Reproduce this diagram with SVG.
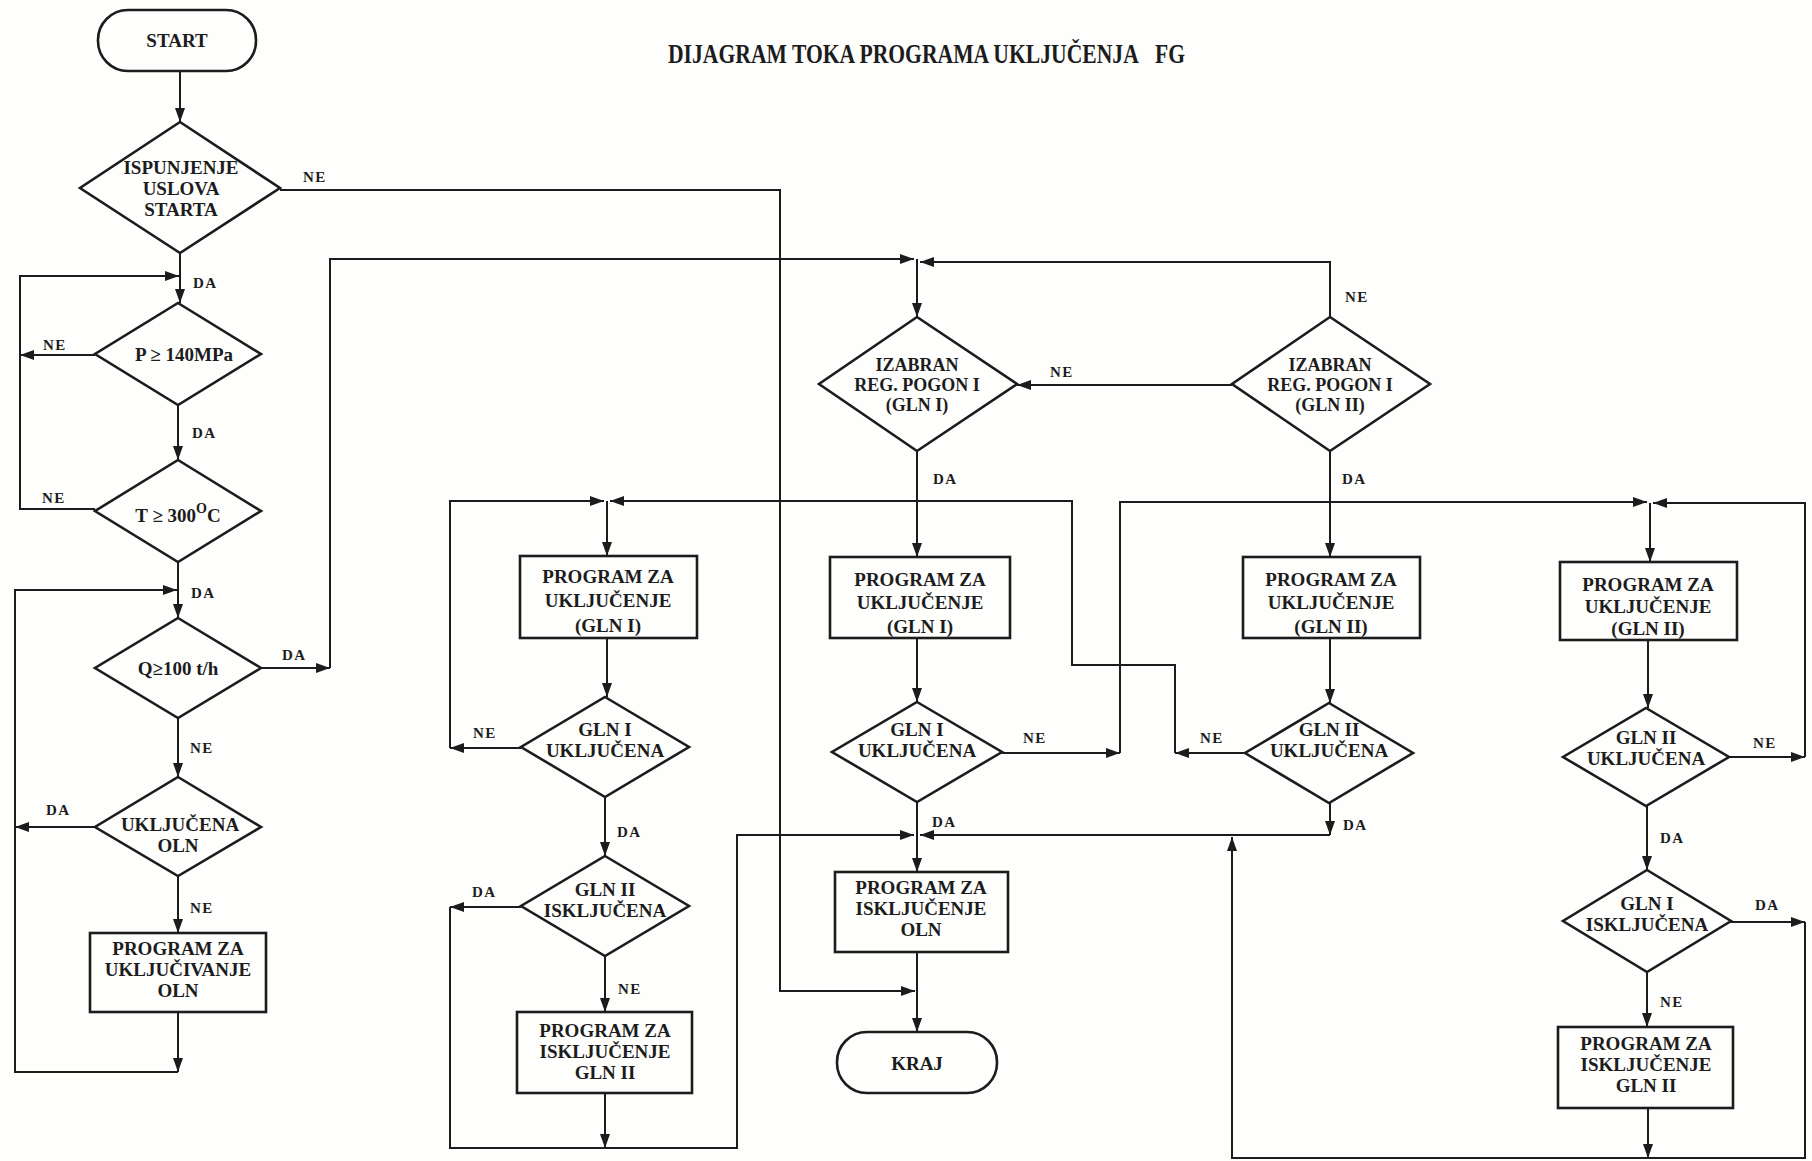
<svg xmlns="http://www.w3.org/2000/svg" width="1812" height="1161" viewBox="0 0 1812 1161">
<style>
.s{fill:none;stroke:#1c1c1c;stroke-width:2.6}
.c{fill:none;stroke:#1c1c1c;stroke-width:2}
.t{font-family:"Liberation Serif",serif;font-weight:bold;font-size:19px;fill:#1c1c1c;text-anchor:middle}
.m{font-size:18px}
.l{font-family:"Liberation Serif",serif;font-weight:bold;font-size:15px;fill:#1c1c1c;letter-spacing:1.5px}
.title{font-family:"Liberation Serif",serif;font-weight:bold;font-size:27px;fill:#1c1c1c}
</style>
<defs>
<marker id="a" viewBox="0 0 14 10" refX="14" refY="5" markerWidth="14" markerHeight="10" markerUnits="userSpaceOnUse" orient="auto">
<path d="M0,0 L14,5 L0,10 Z" fill="#1c1c1c"/>
</marker>
</defs>
<rect width="1812" height="1161" fill="#fefefd"/>
<text class="title" x="668" y="63" textLength="517" lengthAdjust="spacingAndGlyphs">DIJAGRAM TOKA PROGRAMA UKLJUČENJA&#160;&#160;&#160;FG</text>

<g id="connectors">
<path class="c" d="M180 71 V122" marker-end="url(#a)"/>
<path class="c" d="M280 190 H780 V991 H915" marker-end="url(#a)"/>
<path class="c" d="M180 253 V303" marker-end="url(#a)"/>
<path class="c" d="M95 509 H20 V276 H179" marker-end="url(#a)"/>
<path class="c" d="M95 355 H20" marker-end="url(#a)"/>
<path class="c" d="M178 405 V460" marker-end="url(#a)"/>
<path class="c" d="M178 562 V618" marker-end="url(#a)"/>
<path class="c" d="M178 718 V777" marker-end="url(#a)"/>
<path class="c" d="M178 876 V933" marker-end="url(#a)"/>
<path class="c" d="M95 827 H15" marker-end="url(#a)"/>
<path class="c" d="M178 1012 V1072" marker-end="url(#a)"/>
<path class="c" d="M178 1072 H15 V590 H177" marker-end="url(#a)"/>
<path class="c" d="M262 668 H330" marker-end="url(#a)"/>
<path class="c" d="M330 668 V259 H914" marker-end="url(#a)"/>
<path class="c" d="M917 259 V317" marker-end="url(#a)"/>
<path class="c" d="M1330 317 V262 H920" marker-end="url(#a)"/>
<path class="c" d="M1232 385 H1017" marker-end="url(#a)"/>
<path class="c" d="M917 451 V557" marker-end="url(#a)"/>
<path class="c" d="M1330 451 V557" marker-end="url(#a)"/>
<path class="c" d="M917 638 V702" marker-end="url(#a)"/>
<path class="c" d="M1330 638 V703" marker-end="url(#a)"/>
<path class="c" d="M607 501 V556" marker-end="url(#a)"/>
<path class="c" d="M607 638 V697" marker-end="url(#a)"/>
<path class="c" d="M521 748 H450" marker-end="url(#a)"/>
<path class="c" d="M450 748 V501 H604" marker-end="url(#a)"/>
<path class="c" d="M1245 753 H1175" marker-end="url(#a)"/>
<path class="c" d="M1175 753 V665 H1072 V501 H610" marker-end="url(#a)"/>
<path class="c" d="M1002 753 H1120" marker-end="url(#a)"/>
<path class="c" d="M1120 753 V502 H1647" marker-end="url(#a)"/>
<path class="c" d="M1729 757 H1805" marker-end="url(#a)"/>
<path class="c" d="M1805 757 V503 H1653" marker-end="url(#a)"/>
<path class="c" d="M1650 503 V562" marker-end="url(#a)"/>
<path class="c" d="M1648 640 V708" marker-end="url(#a)"/>
<path class="c" d="M605 797 V856" marker-end="url(#a)"/>
<path class="c" d="M605 956 V1012" marker-end="url(#a)"/>
<path class="c" d="M521 907 H450" marker-end="url(#a)"/>
<path class="c" d="M450 907 V1148 H737 V835 H914" marker-end="url(#a)"/>
<path class="c" d="M605 1093 V1148" marker-end="url(#a)"/>
<path class="c" d="M917 802 V872" marker-end="url(#a)"/>
<path class="c" d="M1330 803 V835" marker-end="url(#a)"/>
<path class="c" d="M1330 835 H920" marker-end="url(#a)"/>
<path class="c" d="M1730 922 H1805" marker-end="url(#a)"/>
<path class="c" d="M1805 922 V1158 H1232 V837" marker-end="url(#a)"/>
<path class="c" d="M1647 806 V870" marker-end="url(#a)"/>
<path class="c" d="M1647 972 V1027" marker-end="url(#a)"/>
<path class="c" d="M1648 1108 V1158" marker-end="url(#a)"/>
<path class="c" d="M917 952 V1032" marker-end="url(#a)"/>
</g>

<g id="labels">
<text class="l" x="303" y="182">NE</text>
<text class="l" x="193" y="288">DA</text>
<text class="l" x="43" y="350">NE</text>
<text class="l" x="192" y="438">DA</text>
<text class="l" x="42" y="503">NE</text>
<text class="l" x="191" y="598">DA</text>
<text class="l" x="282" y="660">DA</text>
<text class="l" x="190" y="753">NE</text>
<text class="l" x="46" y="815">DA</text>
<text class="l" x="190" y="913">NE</text>
<text class="l" x="1345" y="302">NE</text>
<text class="l" x="1050" y="377">NE</text>
<text class="l" x="933" y="484">DA</text>
<text class="l" x="1342" y="484">DA</text>
<text class="l" x="473" y="738">NE</text>
<text class="l" x="1023" y="743">NE</text>
<text class="l" x="1200" y="743">NE</text>
<text class="l" x="1753" y="748">NE</text>
<text class="l" x="617" y="837">DA</text>
<text class="l" x="472" y="897">DA</text>
<text class="l" x="618" y="994">NE</text>
<text class="l" x="932" y="827">DA</text>
<text class="l" x="1343" y="830">DA</text>
<text class="l" x="1660" y="843">DA</text>
<text class="l" x="1755" y="910">DA</text>
<text class="l" x="1660" y="1007">NE</text>
</g>

<g id="n_start"><rect class="s" x="98" y="10" width="158" height="61" rx="30"/><text class="t" x="177" y="47" font-size="20">START</text></g>
<g id="n_uslovi"><polygon class="s" points="180,122 280,188 180,253 80,188"/><text class="t" x="181" y="174">ISPUNJENJE</text><text class="t" x="181" y="195">USLOVA</text><text class="t" x="181" y="216">STARTA</text></g>
<g id="n_p"><polygon class="s" points="178,303 261,354 178,405 95,354"/><text class="t" x="184" y="361" font-size="20">P ≥ 140MPa</text></g>
<g id="n_t"><polygon class="s" points="178,460 261,511 178,562 95,511"/><text class="t" x="178" y="522" font-size="20">T ≥ 300<tspan font-size="14" dy="-9">O</tspan><tspan dy="9">C</tspan></text></g>
<g id="n_q"><polygon class="s" points="178,618 261,668 178,718 95,668"/><text class="t" x="178" y="675" font-size="20">Q≥100 t/h</text></g>
<g id="n_oln"><polygon class="s" points="178,777 261,827 178,876 95,827"/><text class="t" x="180" y="831">UKLJUČENA</text><text class="t" x="178" y="852">OLN</text></g>
<g id="n_oln_on"><rect class="s" x="90" y="933" width="176" height="79"/><text class="t" x="178" y="955">PROGRAM ZA</text><text class="t" x="178" y="976">UKLJUČIVANJE</text><text class="t" x="178" y="997">OLN</text></g>

<g id="n_gln1_on_a"><rect class="s" x="520" y="556" width="177" height="82"/><text class="t" x="608" y="583">PROGRAM ZA</text><text class="t" x="608" y="607">UKLJUČENJE</text><text class="t" x="608" y="632">(GLN I)</text></g>
<g id="n_gln1_ok_a"><polygon class="s" points="605,697 689,747 605,797 521,747"/><text class="t" x="605" y="736">GLN I</text><text class="t" x="605" y="757">UKLJUČENA</text></g>
<g id="n_gln2_off_a"><polygon class="s" points="605,856 689,906 605,956 521,906"/><text class="t" x="605" y="896">GLN II</text><text class="t" x="605" y="917">ISKLJUČENA</text></g>
<g id="n_gln2_offprog_a"><rect class="s" x="517" y="1012" width="175" height="81"/><text class="t" x="605" y="1037">PROGRAM ZA</text><text class="t" x="605" y="1058">ISKLJUČENJE</text><text class="t" x="605" y="1079">GLN II</text></g>

<g id="n_izabran1"><polygon class="s" points="917,317 1017,384 917,451 819,384"/><text class="t m" x="917" y="371">IZABRAN</text><text class="t m" x="917" y="391">REG. POGON I</text><text class="t m" x="917" y="411">(GLN I)</text></g>
<g id="n_gln1_on_b"><rect class="s" x="830" y="557" width="180" height="81"/><text class="t" x="920" y="586">PROGRAM ZA</text><text class="t" x="920" y="609">UKLJUČENJE</text><text class="t" x="920" y="633">(GLN I)</text></g>
<g id="n_gln1_ok_b"><polygon class="s" points="917,702 1002,752 917,802 832,752"/><text class="t" x="917" y="736">GLN I</text><text class="t" x="917" y="757">UKLJUČENA</text></g>
<g id="n_oln_off"><rect class="s" x="835" y="872" width="173" height="80"/><text class="t" x="921" y="894">PROGRAM ZA</text><text class="t" x="921" y="915">ISKLJUČENJE</text><text class="t" x="921" y="936">OLN</text></g>
<g id="n_kraj"><rect class="s" x="837" y="1032" width="160" height="61" rx="30"/><text class="t" x="917" y="1070" font-size="20">KRAJ</text></g>

<g id="n_izabran2"><polygon class="s" points="1330,317 1430,384 1330,451 1232,384"/><text class="t m" x="1330" y="371">IZABRAN</text><text class="t m" x="1330" y="391">REG. POGON I</text><text class="t m" x="1330" y="411">(GLN II)</text></g>
<g id="n_gln2_on_b"><rect class="s" x="1243" y="557" width="177" height="81"/><text class="t" x="1331" y="586">PROGRAM ZA</text><text class="t" x="1331" y="609">UKLJUČENJE</text><text class="t" x="1331" y="633">(GLN II)</text></g>
<g id="n_gln2_ok_b"><polygon class="s" points="1329,703 1413,753 1329,803 1245,753"/><text class="t" x="1329" y="736">GLN II</text><text class="t" x="1329" y="757">UKLJUČENA</text></g>

<g id="n_gln2_on_c"><rect class="s" x="1560" y="562" width="177" height="78"/><text class="t" x="1648" y="591">PROGRAM ZA</text><text class="t" x="1648" y="613">UKLJUČENJE</text><text class="t" x="1648" y="635">(GLN II)</text></g>
<g id="n_gln2_ok_c"><polygon class="s" points="1646,708 1729,757 1646,806 1563,757"/><text class="t" x="1646" y="744">GLN II</text><text class="t" x="1646" y="765">UKLJUČENA</text></g>
<g id="n_gln1_off_c"><polygon class="s" points="1647,870 1731,921 1647,972 1563,921"/><text class="t" x="1647" y="910">GLN I</text><text class="t" x="1647" y="931">ISKLJUČENA</text></g>
<g id="n_gln2_offprog_c"><rect class="s" x="1558" y="1027" width="175" height="81"/><text class="t" x="1646" y="1050">PROGRAM ZA</text><text class="t" x="1646" y="1071">ISKLJUČENJE</text><text class="t" x="1646" y="1092">GLN II</text></g>
</svg>
